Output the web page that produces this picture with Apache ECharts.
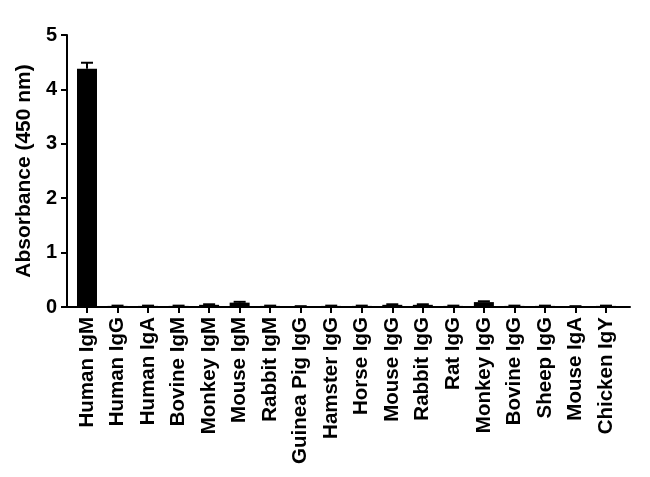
<!DOCTYPE html>
<html>
<head>
<meta charset="utf-8">
<script src="https://cdn.jsdelivr.net/npm/echarts@6/dist/echarts.min.js"></script>
<style>
html,body{margin:0;padding:0;background:#fff;}
#chart{width:650px;height:477px;}
</style>
</head>
<body>
<div id="chart"></div>
<script>
var categories = ["Human IgM","Human IgG","Human IgA","Bovine IgM","Monkey IgM","Mouse IgM","Rabbit IgM","Guinea Pig IgG","Hamster IgG","Horse IgG","Mouse IgG","Rabbit IgG","Rat IgG","Monkey IgG","Bovine IgG","Sheep IgG","Mouse IgA","Chicken IgY"];
var values = [4.38,0.02,0.02,0.02,0.04,0.08,0.02,0.01,0.02,0.02,0.04,0.04,0.02,0.09,0.02,0.02,0.01,0.02];
var errors = [0.11,0.005,0.005,0.005,0.01,0.015,0.005,0.005,0.005,0.005,0.01,0.01,0.005,0.015,0.005,0.005,0.005,0.005];
var yTicks = [0,1,2,3,4,5];

var FONT = 'Liberation Sans, Arial, sans-serif';
var chart = echarts.init(document.getElementById('chart'));
var positions = categories.map(function(c,i){ return i; });
var barData = values.map(function(v,i){ return [i, v]; });
var errData = values.map(function(v,i){ return [i, v, v + errors[i]]; });

chart.setOption({
  animation: false,
  grid: {left: 67, right: 20, top: 35, bottom: 170},
  xAxis: {
    type: 'value',
    min: -0.655, max: 17.786,
    splitLine: {show: false},
    axisLine: {show: true, onZero: false, lineStyle: {color: '#000', width: 2}},
    axisTick: {show: true, customValues: positions, length: 6, lineStyle: {color: '#000', width: 2}},
    axisLabel: {customValues: positions, rotate: 90, margin: 10, color: '#000', fontFamily: FONT, fontWeight: 'bold', fontSize: 20.5,
      formatter: function(v){ return categories[Math.round(v)]; }}
  },
  yAxis: {
    type: 'value',
    min: 0, max: 5, interval: 1,
    name: 'Absorbance (450 nm)',
    nameLocation: 'middle',
    nameGap: 30,
    nameTextStyle: {color: '#000', fontFamily: FONT, fontWeight: 'bold', fontSize: 21},
    splitLine: {show: false},
    axisLine: {show: true, onZero: false, lineStyle: {color: '#000', width: 2}},
    axisTick: {show: true, length: 6, lineStyle: {color: '#000', width: 2}},
    axisLabel: {margin: 10, color: '#000', fontFamily: FONT, fontWeight: 'bold', fontSize: 20,
      formatter: function(v){ return yTicks.indexOf(v) >= 0 ? String(v) : ''; }}
  },
  series: [
    {
      type: 'bar',
      data: barData,
      barWidth: 20,
      itemStyle: {color: '#000'}
    },
    {
      type: 'custom',
      data: errData,
      z: 3,
      renderItem: function(params, api){
        var x = api.value(0);
        var top = api.coord([x, api.value(2)]);
        var base = api.coord([x, api.value(1)]);
        var hw = 6;
        return {
          type: 'group',
          children: [
            {type: 'line', shape: {x1: top[0], y1: top[1], x2: base[0], y2: base[1]}, style: {stroke: '#000', lineWidth: 2}},
            {type: 'line', shape: {x1: top[0]-hw, y1: top[1], x2: top[0]+hw, y2: top[1]}, style: {stroke: '#000', lineWidth: 2}}
          ]
        };
      }
    }
  ]
});
</script>
</body>
</html>
